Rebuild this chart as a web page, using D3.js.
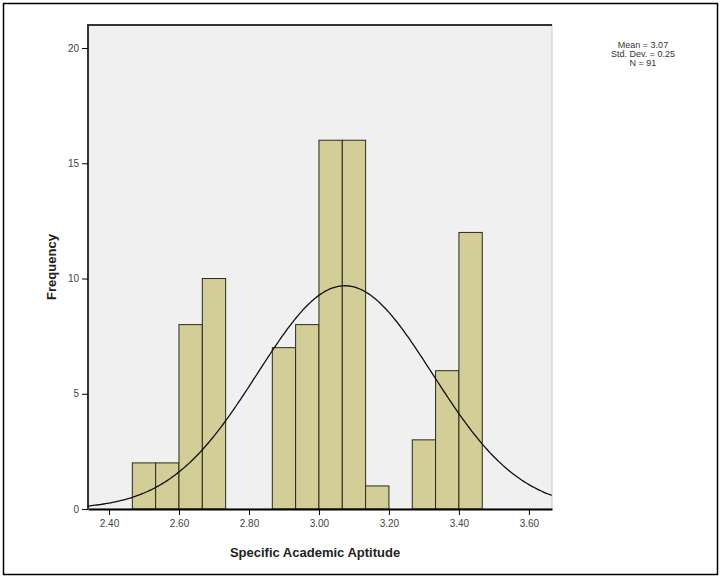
<!DOCTYPE html>
<html>
<head>
<meta charset="utf-8">
<script src="https://cdn.jsdelivr.net/npm/d3@7"></script>
<style>
  body { margin: 0; background: #fff; }
  text { font-family: Arial, "Liberation Sans", sans-serif; }
</style>
</head>
<body>
<div id="chart"></div>
<script>
var width = 721,
    height = 578;

// histogram bins (lower edges, width 1/15) and counts
var binLow = [2.4667, 2.5333, 2.6, 2.6667, 2.7333, 2.8, 2.8667, 2.9333, 3.0, 3.0667, 3.1333, 3.2, 3.2667, 3.3333, 3.4];
var binWidth = 0.0667;
var counts = [2, 2, 8, 10, 0, 0, 7, 8, 16, 16, 1, 0, 3, 6, 12];
var xTicks = [2.4, 2.6, 2.8, 3.0, 3.2, 3.4, 3.6];
var yTicks = [0, 5, 10, 15, 20];
var mean = 3.074, sd = 0.25, n = 91;
var legendLines = ["Mean = 3.07", "Std. Dev. = 0.25", "N = 91"];

var plot = {left: 88, top: 25, right: 552, bottom: 509};

var svg = d3.select("#chart").append("svg")
    .attr("width", width)
    .attr("height", height)

// outer frame
svg.append("rect")
    .attr("x", 3.5).attr("y", 3.5)
    .attr("width", width - 7).attr("height", height - 7)
    .attr("fill", "#fff")
    .attr("stroke", "#000")
    .attr("stroke-width", 1.5)

var x = d3.scaleLinear().domain([2.34, 3.666]).range([plot.left, plot.right])
var y = d3.scaleLinear().domain([0, 21]).range([plot.bottom, plot.top])

/* plot background */
svg.append("rect")
    .attr("x", plot.left).attr("y", plot.top)
    .attr("width", plot.right - plot.left)
    .attr("height", plot.bottom - plot.top)
    .attr("fill", "#f0f0f0")
    .attr("stroke", "#c8c8c8")

svg.append("path")
    .attr("d", "M" + plot.left + "," + plot.bottom + "V" + plot.top + "H" + plot.right)
    .attr("fill", "none")
    .attr("stroke", "#333")
    .attr("stroke-width", 2)

/* bars */
svg.selectAll("rect.bar")
    .data(counts.map(function(c, i){ return {lo: binLow[i], c: c} }).filter(function(d){ return d.c > 0 }))
  .enter().append("rect")
    .attr("class", "bar")
    .attr("x", function(d){ return x(d.lo) })
    .attr("width", function(d){ return x(d.lo + binWidth) - x(d.lo) })
    .attr("y", function(d){ return y(d.c) })
    .attr("height", function(d){ return y(0) - y(d.c) })
    .attr("fill", "#d3ce97")
    .attr("stroke", "#2a2a1a")
    .attr("stroke-width", 1)

/* normal curve */
var curve = d3.range(2.34, 3.667, 0.005).map(function(v){
    var z = (v - mean) / sd;
    return [v, n * binWidth / (sd * Math.sqrt(2 * Math.PI)) * Math.exp(-z * z / 2)];
})
svg.append("path")
    .datum(curve)
    .attr("d", d3.line().x(function(d){ return x(d[0]) }).y(function(d){ return y(d[1]) }))
    .attr("fill", "none")
    .attr("stroke", "#111")
    .attr("stroke-width", 1.3)

/* axes */
var xAxis = svg.append("g")
    .attr("transform", "translate(0," + plot.bottom + ")")
    .call(d3.axisBottom(x).tickValues(xTicks).tickFormat(d3.format(".2f")).tickSize(6).tickSizeOuter(0))
xAxis.select(".domain").attr("stroke", "#000").attr("stroke-width", 2)
xAxis.selectAll("text").attr("font-size", 10).attr("fill", "#444").attr("dy", "0.9em")

var yAxis = svg.append("g")
    .attr("transform", "translate(" + plot.left + ",0)")
    .call(d3.axisLeft(y).tickValues(yTicks).tickSize(6).tickSizeOuter(0))
yAxis.select(".domain").remove()
yAxis.selectAll("text").attr("font-size", 10).attr("fill", "#444")

svg.append("text")
    .attr("transform", "translate(56," + ((plot.top + plot.bottom) / 2) + ") rotate(-90)")
    .attr("text-anchor", "middle")
    .attr("font-size", 13)
    .attr("font-weight", "bold")
    .attr("fill", "#222")
    .text("Frequency")

svg.append("text")
    .attr("x", (plot.left + plot.right) / 2 - 5)
    .attr("y", 557)
    .attr("text-anchor", "middle")
    .attr("font-size", 13)
    .attr("font-weight", "bold")
    .attr("fill", "#222")
    .text("Specific Academic Aptitude")

/* stats legend */
svg.selectAll("text.legend")
    .data(legendLines)
  .enter().append("text")
    .attr("class", "legend")
    .attr("x", 643)
    .attr("y", function(d, i){ return 48 + i * 9 })
    .attr("text-anchor", "middle")
    .attr("font-size", 9)
    .attr("fill", "#333")
    .text(function(d){ return d })
</script>
</body>
</html>
